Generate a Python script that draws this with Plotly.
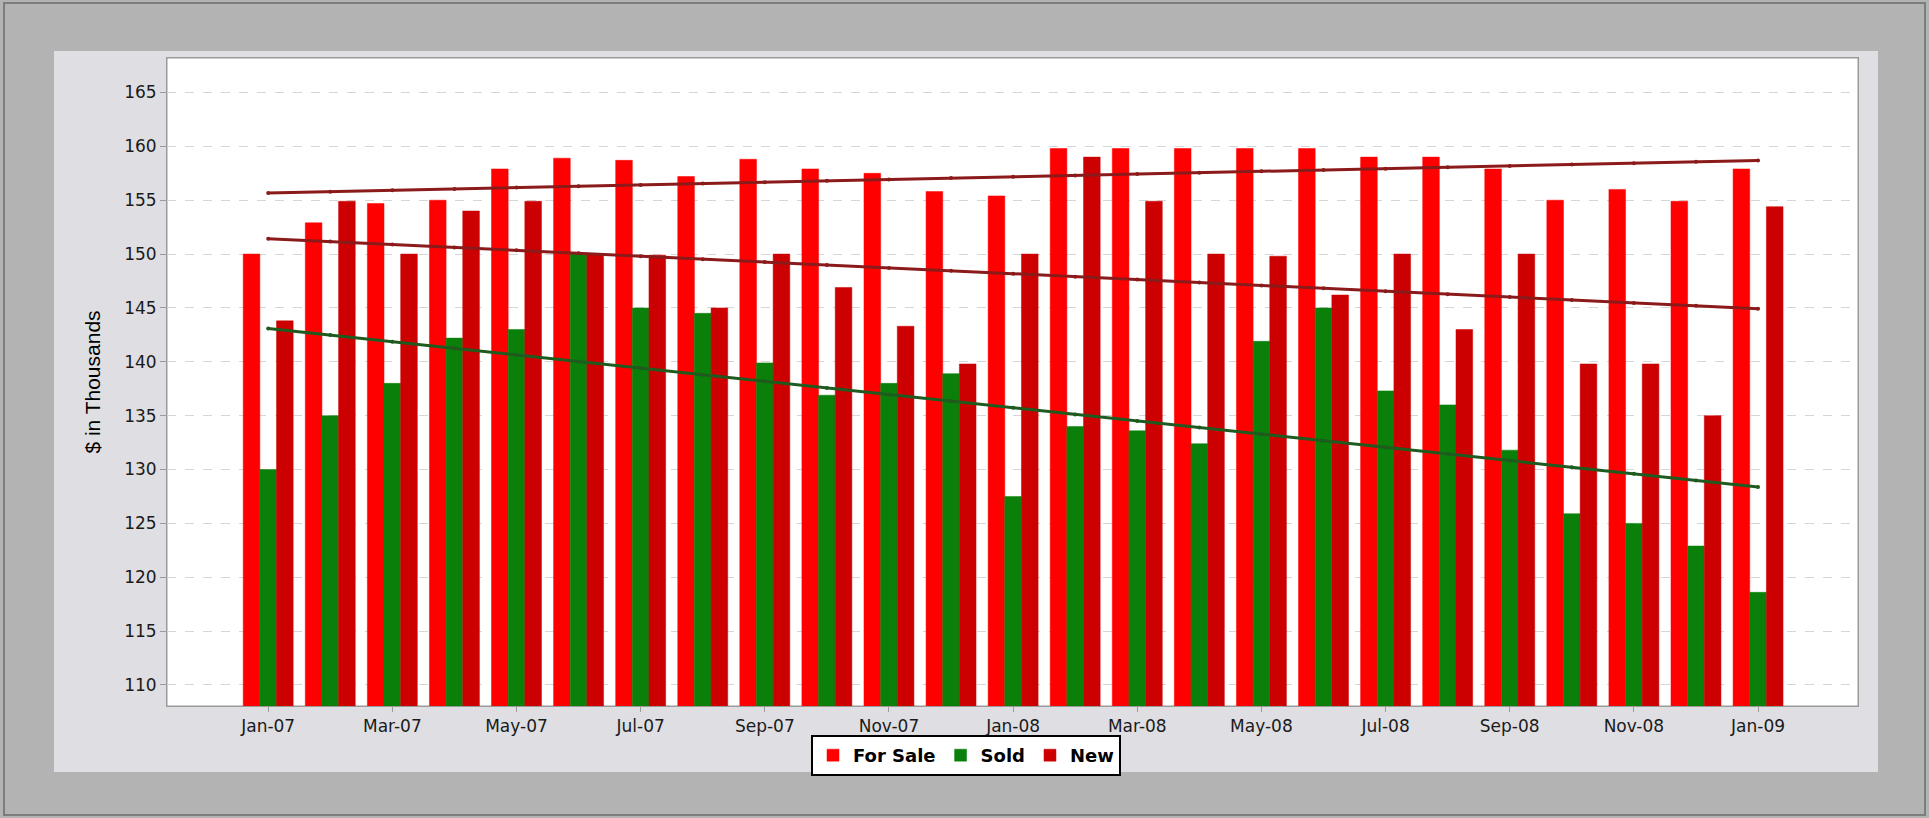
import numpy as np
import plotly.graph_objects as go

months = ["Jan-07", "Feb-07", "Mar-07", "Apr-07", "May-07", "Jun-07", "Jul-07", "Aug-07",
          "Sep-07", "Oct-07", "Nov-07", "Dec-07", "Jan-08", "Feb-08", "Mar-08", "Apr-08",
          "May-08", "Jun-08", "Jul-08", "Aug-08", "Sep-08", "Oct-08", "Nov-08", "Dec-08", "Jan-09"]

for_sale = [150.0, 152.9, 154.7, 155.0, 157.9, 158.9, 158.7, 157.2, 158.8, 157.9, 157.5, 155.8,
            155.4, 159.8, 159.8, 159.8, 159.8, 159.8, 159.0, 159.0, 157.9, 155.0, 156.0, 154.9, 157.9]
sold = [130.0, 135.0, 138.0, 142.2, 143.0, 150.0, 145.0, 144.5, 139.9, 136.9, 138.0, 138.9,
        127.5, 134.0, 133.6, 132.4, 141.9, 145.0, 137.3, 136.0, 131.8, 125.9, 125.0, 122.9, 118.6]
new = [143.8, 154.9, 150.0, 154.0, 154.9, 150.0, 149.9, 145.0, 150.0, 146.9, 143.3, 139.8,
       150.0, 159.0, 154.9, 150.0, 149.8, 146.2, 150.0, 143.0, 150.0, 139.8, 139.8, 135.0, 154.4]

y_ticks = [110, 115, 120, 125, 130, 135, 140, 145, 150, 155, 160, 165]
x_tick_labels = months[::2]

series = [("For Sale", for_sale, "#ff0000", "#8b1a1a"),
          ("Sold", sold, "#0a800a", "#1f5a1f"),
          ("New", new, "#cc0000", "#8b1a1a")]

W, H = 1929, 818
L, R, T, B = 167, 1858, 58, 706
pw, ph = R - L, B - T

def px(xp):
    return (xp - L) / pw

def py(yp):
    return (B - yp) / ph

fig = go.Figure()
xi = np.arange(len(months))
for name, vals, col, _ in series:
    fig.add_trace(go.Bar(
        x=xi, y=vals, name=name,
        marker=dict(color=col, line=dict(color=col, width=0.5)),
        hoverinfo="x+y+name",
    ))

# linear trend lines derived from the series above
for name, vals, _, tcol in series:
    k, c = np.polyfit(xi, np.array(vals), 1)
    fig.add_trace(go.Scatter(
        x=xi, y=k * xi + c, mode="lines+markers", showlegend=False,
        line=dict(color=tcol, width=3),
        marker=dict(color=tcol, size=4),
        name=name + " trend",
    ))

shapes = [
    # outer frame
    dict(type="rect", xref="paper", yref="paper", layer="below",
         x0=px(4), x1=px(1925), y0=py(3), y1=py(815),
         fillcolor="#b3b3b3", line=dict(color="#7d7d7d", width=2)),
    # inner panel
    dict(type="rect", xref="paper", yref="paper", layer="below",
         x0=px(54), x1=px(1878), y0=py(51), y1=py(772),
         fillcolor="#dfdfe3", line=dict(width=0)),
    # plot area
    dict(type="rect", xref="paper", yref="paper", layer="below",
         x0=0, x1=1, y0=0, y1=1,
         fillcolor="#ffffff", line=dict(color="#9a9a9a", width=1)),
]

fig.update_layout(
    width=W, height=H,
    margin=dict(l=L, r=W - R, t=T, b=H - B, pad=0),
    paper_bgcolor="#b3b3b3",
    plot_bgcolor="#ffffff",
    barmode="group",
    bargap=0.195,
    bargroupgap=0,
    shapes=shapes,
    showlegend=True,
    legend=dict(
        orientation="h", x=px(966), xanchor="center", y=py(735), yanchor="top",
        bgcolor="#ffffff", bordercolor="#000000", borderwidth=2,
        font=dict(family="DejaVu Sans", size=18, color="#000000", weight="bold"),
        itemwidth=30, traceorder="normal",
    ),
    xaxis=dict(
        range=[-1.63, 25.61],
        tickmode="array", tickvals=xi[::2], ticktext=x_tick_labels,
        ticks="outside", ticklen=5, tickcolor="#9a9a9a",
        showgrid=False, zeroline=False,
        showline=True, linecolor="#9a9a9a", linewidth=1, mirror=True,
        tickfont=dict(family="DejaVu Sans", size=17, color="#1a1a1a"),
    ),
    yaxis=dict(
        range=[108.05, 168.2],
        tickmode="array", tickvals=y_ticks,
        ticks="outside", ticklen=6, tickcolor="#9a9a9a",
        showgrid=True, gridcolor="#d6d6d6", griddash="dash", gridwidth=1,
        zeroline=False,
        showline=True, linecolor="#9a9a9a", linewidth=1, mirror=True,
        tickfont=dict(family="DejaVu Sans", size=17, color="#1a1a1a"),
        title=dict(text="$ in Thousands", standoff=17,
                   font=dict(family="Liberation Sans", size=21, color="#000000")),
    ),
)

fig.write_html("out.html", config={"displayModeBar": False},
               post_script="document.body.style.margin='0';document.body.style.overflow='hidden';")
